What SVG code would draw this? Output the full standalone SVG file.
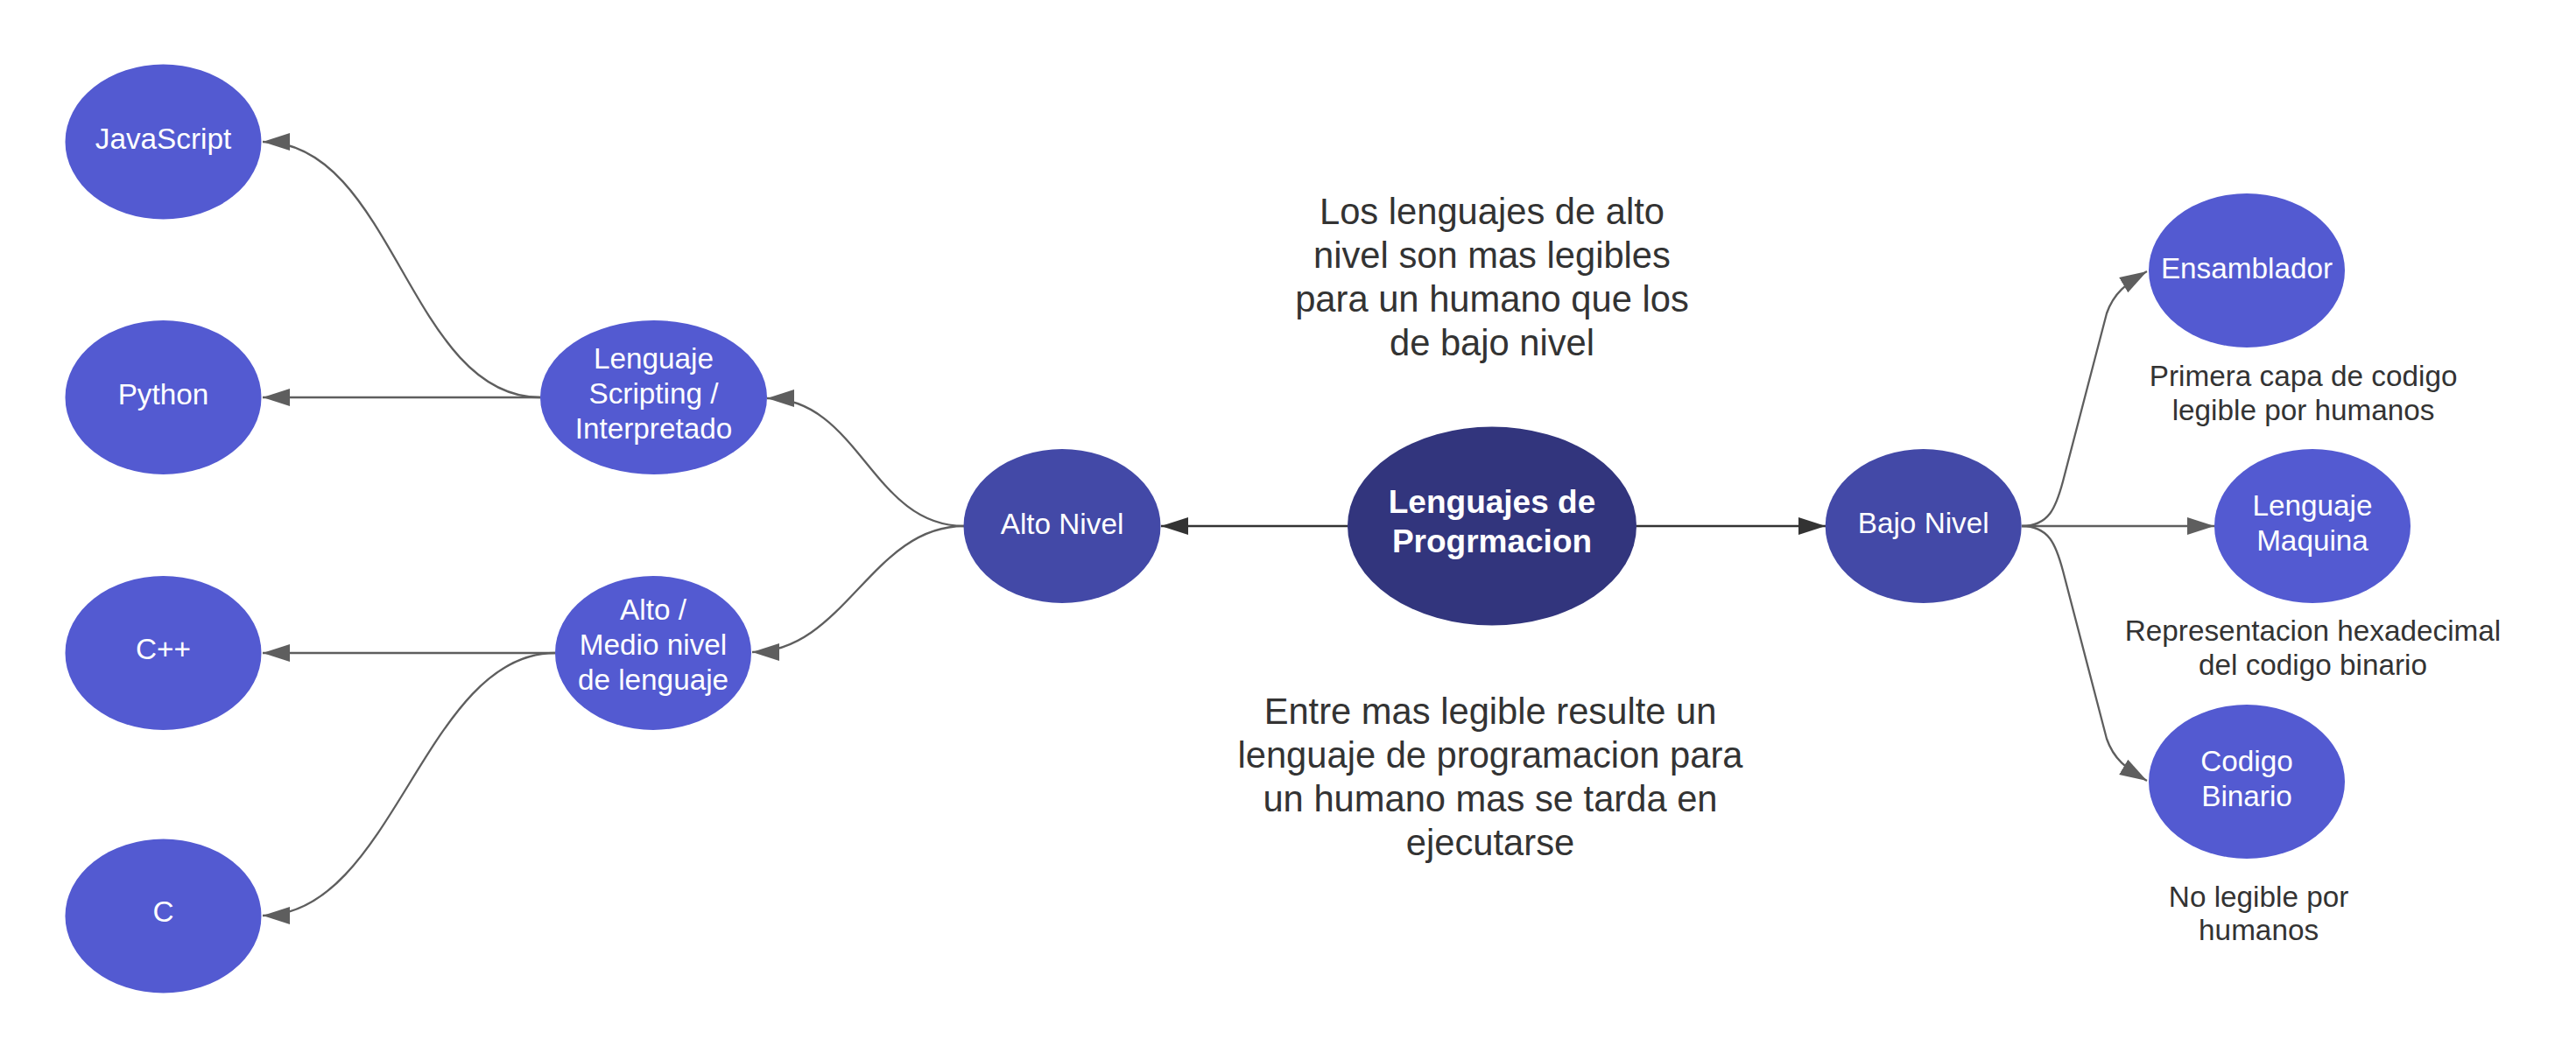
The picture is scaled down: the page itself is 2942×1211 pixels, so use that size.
<svg xmlns="http://www.w3.org/2000/svg" width="2942" height="1211" viewBox="0 0 2942 1211">
<style>
.n{fill:#535ad1}
.m{fill:#4349a7}
.k{fill:#32357d}
.lbl{fill:#ffffff;font-family:"Liberation Sans",Arial,sans-serif;font-size:33.3px;text-anchor:middle}
.ctr{fill:#ffffff;font-family:"Liberation Sans",Arial,sans-serif;font-size:37px;font-weight:bold;text-anchor:middle}
.note{fill:#333333;font-family:"Liberation Sans",Arial,sans-serif;font-size:33.3px;text-anchor:middle}
.big{fill:#333333;font-family:"Liberation Sans",Arial,sans-serif;font-size:41.7px;text-anchor:middle}
.c{fill:none;stroke:#5e5e5e;stroke-width:2.3}
.d{fill:none;stroke:#333333;stroke-width:2.3}
</style>
<defs>
<marker id="ag" viewBox="0 0 31 20" refX="31" refY="10" markerWidth="31" markerHeight="20" markerUnits="userSpaceOnUse" orient="auto"><path d="M0,0 L31,10 L0,20 z" fill="#5e5e5e"/></marker>
<marker id="ad" viewBox="0 0 31 20" refX="31" refY="10" markerWidth="31" markerHeight="20" markerUnits="userSpaceOnUse" orient="auto"><path d="M0,0 L31,10 L0,20 z" fill="#333333"/></marker>
</defs>
<rect width="2942" height="1211" fill="#ffffff"/>
<g id="connectors">
<path class="d" d="M1539,601 L1326,601" marker-end="url(#ad)"/>
<path class="d" d="M1869,601 L2085,601" marker-end="url(#ad)"/>
<path class="c" d="M1101,601 C995,601 982,455 876,455" marker-end="url(#ag)"/>
<path class="c" d="M1101,601 C995,601 965,745 859,745" marker-end="url(#ag)"/>
<path class="c" d="M617,454 C467,454 450,162 300,162" marker-end="url(#ag)"/>
<path class="c" d="M617,454 L300,454" marker-end="url(#ag)"/>
<path class="c" d="M634,746 L300,746" marker-end="url(#ag)"/>
<path class="c" d="M634,746 C484,746 450,1046 300,1046" marker-end="url(#ag)"/>
<path class="c" d="M2309,601 C2340,601 2348,580 2356,550 L2406,358 C2414,335 2428,324 2452,310" marker-end="url(#ag)"/>
<path class="c" d="M2309,601 L2529,601" marker-end="url(#ag)"/>
<path class="c" d="M2309,601 C2340,601 2348,622 2356,652 L2406,844 C2414,867 2428,878 2452,892" marker-end="url(#ag)"/>
</g>
<g id="javascript"><ellipse class="n" cx="186.5" cy="162" rx="112" ry="88.5"/><text class="lbl" x="186.5" y="170">JavaScript</text></g>
<g id="python"><ellipse class="n" cx="186.5" cy="454" rx="112" ry="88"/><text class="lbl" x="186.5" y="462">Python</text></g>
<g id="cpp"><ellipse class="n" cx="186.5" cy="746" rx="112" ry="88"/><text class="lbl" x="186.5" y="753">C++</text></g>
<g id="c"><ellipse class="n" cx="186.5" cy="1046.5" rx="112" ry="88"/><text class="lbl" x="186.5" y="1053">C</text></g>
<g id="scripting"><ellipse class="n" cx="746.5" cy="454" rx="129.5" ry="88"/><text class="lbl" x="746.5" y="421">Lenguaje</text><text class="lbl" x="746.5" y="461">Scripting /</text><text class="lbl" x="746.5" y="501">Interpretado</text></g>
<g id="alto-medio"><ellipse class="n" cx="746" cy="746" rx="112" ry="88"/><text class="lbl" x="746" y="708">Alto /</text><text class="lbl" x="746" y="748">Medio nivel</text><text class="lbl" x="746" y="788">de lenguaje</text></g>
<g id="alto-nivel"><ellipse class="m" cx="1213" cy="601" rx="112.5" ry="88"/><text class="lbl" x="1213" y="609.5">Alto Nivel</text></g>
<g id="lenguajes"><ellipse class="k" cx="1704" cy="601" rx="165" ry="113.5"/><text class="ctr" x="1704" y="586">Lenguajes de</text><text class="ctr" x="1704" y="631">Progrmacion</text></g>
<g id="bajo-nivel"><ellipse class="m" cx="2196.7" cy="601" rx="112" ry="88"/><text class="lbl" x="2196.7" y="609">Bajo Nivel</text></g>
<g id="ensamblador"><ellipse class="n" cx="2566" cy="309" rx="112" ry="88"/><text class="lbl" x="2566" y="318">Ensamblador</text></g>
<g id="maquina"><ellipse class="n" cx="2641" cy="601" rx="112" ry="88"/><text class="lbl" x="2641" y="589">Lenguaje</text><text class="lbl" x="2641" y="629">Maquina</text></g>
<g id="binario"><ellipse class="n" cx="2566" cy="893" rx="112" ry="88"/><text class="lbl" x="2566" y="881">Codigo</text><text class="lbl" x="2566" y="921">Binario</text></g>
<g id="note-alto"><text class="big" x="1704" y="256">Los lenguajes de alto</text><text class="big" x="1704" y="306">nivel son mas legibles</text><text class="big" x="1704" y="356">para un humano que los</text><text class="big" x="1704" y="406">de bajo nivel</text></g>
<g id="note-legible"><text class="big" x="1702" y="827">Entre mas legible resulte un</text><text class="big" x="1702" y="877">lenguaje de programacion para</text><text class="big" x="1702" y="927">un humano mas se tarda en</text><text class="big" x="1702" y="977">ejecutarse</text></g>
<g id="note-ensamblador"><text class="note" x="2630.6" y="441">Primera capa de codigo</text><text class="note" x="2630.6" y="480">legible por humanos</text></g>
<g id="note-maquina"><text class="note" x="2641.5" y="732">Representacion hexadecimal</text><text class="note" x="2641.5" y="771">del codigo binario</text></g>
<g id="note-binario"><text class="note" x="2579.6" y="1036">No legible por</text><text class="note" x="2579.6" y="1074">humanos</text></g>
</svg>
